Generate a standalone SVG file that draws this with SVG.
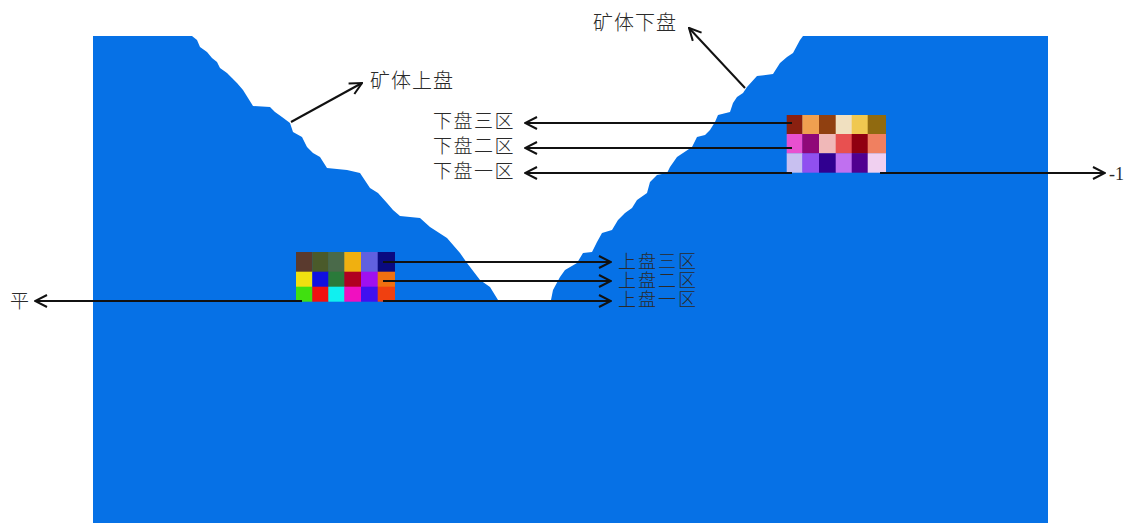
<svg xmlns="http://www.w3.org/2000/svg" width="1130" height="523" viewBox="0 0 1130 523">
<defs>
<marker id="ah" viewBox="0 0 14 14" refX="13" refY="7" markerWidth="14" markerHeight="14" markerUnits="userSpaceOnUse" orient="auto">
<path d="M1,1 L13,7 L1,13" fill="none" stroke="#111" stroke-width="2"/>
</marker>
<style>
.lbl{font-family:"Noto Sans CJK SC","Noto Sans CJK JP",sans-serif;font-weight:300;fill:#2a2a2a}
.ln{stroke:#111;stroke-width:2;fill:none;marker-end:url(#ah)}
</style>
</defs>
<rect width="1130" height="523" fill="#ffffff"/>
<g id="terrain">
<polygon fill="#0671e6" points="93,36 192,36 197,40 200,47 207,52 212,58 217,62 220,68 227,73 232,78 237,83 243,90 248,98 253,106 270,107 275,112 282,117 290,123 293,132 302,137 307,147 313,153 320,157 327,168 347,170 360,173 370,188 378,193 387,203 393,210 400,216 420,218 430,227 447,238 460,253 467,263 480,280 490,287 498,300 551,300 553,290 560,277 565,270 577,263 583,253 592,252 597,242 602,233 612,230 618,220 625,213 632,208 637,200 647,193 650,182 657,175 667,173 670,167 677,157 683,153 692,147 697,137 705,135 710,130 715,122 718,115 730,112 733,103 737,97 743,93 747,87 757,76 773,74 780,63 787,57 793,53 800,40 803,36 1048,36 1048,523 93,523"/>
</g>
<g id="grid-upper">
<rect x="296" y="252" width="16.5" height="20" fill="#5a3a2e"/>
<rect x="312.3" y="252" width="16.5" height="20" fill="#4a5a2a"/>
<rect x="328.3" y="252" width="16.5" height="20" fill="#4a6a4a"/>
<rect x="344.3" y="252" width="17" height="20" fill="#f0b010"/>
<rect x="361" y="252" width="17" height="20" fill="#6060e0"/>
<rect x="377.7" y="252" width="17.3" height="20" fill="#0a0a80"/>
<rect x="296" y="271.7" width="16.5" height="15.3" fill="#f0e010"/>
<rect x="312.3" y="271.7" width="16.5" height="15.3" fill="#1010e0"/>
<rect x="328.3" y="271.7" width="16.5" height="15.3" fill="#2a7a3a"/>
<rect x="344.3" y="271.7" width="17" height="15.3" fill="#b00020"/>
<rect x="361" y="271.7" width="17" height="15.3" fill="#a010f0"/>
<rect x="377.7" y="271.7" width="17.3" height="15.3" fill="#f07010"/>
<rect x="296" y="286.7" width="16.5" height="15" fill="#40e010"/>
<rect x="312.3" y="286.7" width="16.5" height="15" fill="#f01010"/>
<rect x="328.3" y="286.7" width="16.5" height="15" fill="#10f0f0"/>
<rect x="344.3" y="286.7" width="17" height="15" fill="#f010c0"/>
<rect x="361" y="286.7" width="17" height="15" fill="#4010f0"/>
<rect x="377.7" y="286.7" width="17.3" height="15" fill="#f04010"/>
</g>
<g id="grid-lower">
<rect x="786.7" y="115" width="16" height="19.3" fill="#8a2010"/>
<rect x="802.3" y="115" width="17" height="19.3" fill="#f0a050"/>
<rect x="819" y="115" width="17" height="19.3" fill="#904010"/>
<rect x="835.7" y="115" width="16.3" height="19.3" fill="#f0e0c0"/>
<rect x="851.7" y="115" width="16.3" height="19.3" fill="#f0c850"/>
<rect x="867.7" y="115" width="18.3" height="19.3" fill="#906a10"/>
<rect x="786.7" y="134" width="16" height="19.6" fill="#e850d0"/>
<rect x="802.3" y="134" width="17" height="19.6" fill="#900878"/>
<rect x="819" y="134" width="17" height="19.6" fill="#f0b8b8"/>
<rect x="835.7" y="134" width="16.3" height="19.6" fill="#e85050"/>
<rect x="851.7" y="134" width="16.3" height="19.6" fill="#900010"/>
<rect x="867.7" y="134" width="18.3" height="19.6" fill="#f08060"/>
<rect x="786.7" y="153.3" width="16" height="19.4" fill="#c8c0f0"/>
<rect x="802.3" y="153.3" width="17" height="19.4" fill="#9050f0"/>
<rect x="819" y="153.3" width="17" height="19.4" fill="#300090"/>
<rect x="835.7" y="153.3" width="16.3" height="19.4" fill="#c070f0"/>
<rect x="851.7" y="153.3" width="16.3" height="19.4" fill="#500090"/>
<rect x="867.7" y="153.3" width="18.3" height="19.4" fill="#f0d0f0"/>
</g>
<g id="connectors">
<line class="ln" x1="291" y1="122" x2="362" y2="83"/>
<line class="ln" x1="745" y1="88" x2="689" y2="28"/>
<line class="ln" x1="792" y1="123" x2="525" y2="123"/>
<line class="ln" x1="792" y1="148" x2="525" y2="148"/>
<line class="ln" x1="792" y1="173" x2="525" y2="173"/>
<line class="ln" x1="880" y1="173" x2="1105" y2="173"/>
<line class="ln" x1="383" y1="262" x2="611" y2="262"/>
<line class="ln" x1="383" y1="281" x2="611" y2="281"/>
<line class="ln" x1="383" y1="301" x2="611" y2="301"/>
<line class="ln" x1="302" y1="301" x2="35" y2="301"/>
</g>
<g id="label-hw-upper"><text class="lbl" x="370" y="88" font-size="20" letter-spacing="1">矿体上盘</text></g>
<g id="label-fw-lower"><text class="lbl" x="593" y="30" font-size="20" letter-spacing="1">矿体下盘</text></g>
<g id="label-fw3"><text class="lbl" x="433" y="128" font-size="19" letter-spacing="1.5">下盘三区</text></g>
<g id="label-fw2"><text class="lbl" x="433" y="153" font-size="19" letter-spacing="1.5">下盘二区</text></g>
<g id="label-fw1"><text class="lbl" x="433" y="178" font-size="19" letter-spacing="1.5">下盘一区</text></g>
<g id="label-hw3"><text class="lbl" x="618" y="268" font-size="18" letter-spacing="2">上盘三区</text></g>
<g id="label-hw2"><text class="lbl" x="618" y="287" font-size="18" letter-spacing="2">上盘二区</text></g>
<g id="label-hw1"><text class="lbl" x="618" y="306" font-size="18" letter-spacing="2">上盘一区</text></g>
<g id="label-ping"><text class="lbl" x="10" y="308" font-size="19">平</text></g>
<g id="label-minus1"><text x="1109" y="180" font-size="18" font-family="'Liberation Serif',serif" fill="#2a2a2a">-1</text></g>
</svg>
